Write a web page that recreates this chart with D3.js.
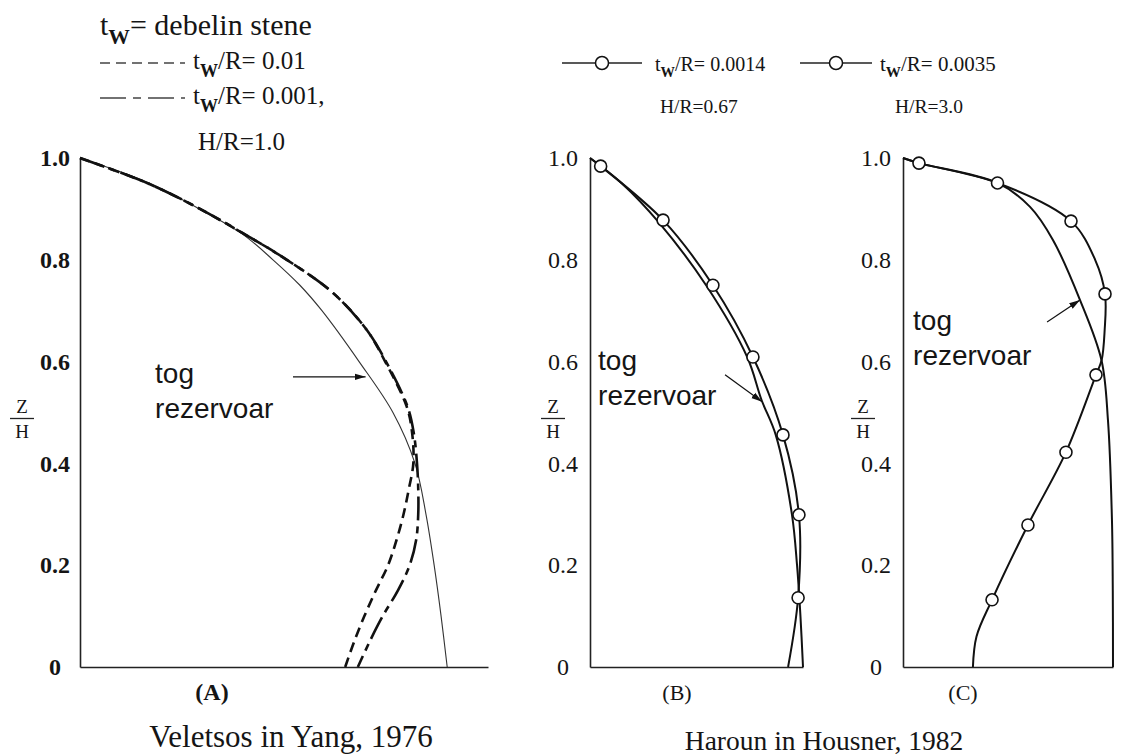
<!DOCTYPE html>
<html>
<head>
<meta charset="utf-8">
<script src="https://cdn.jsdelivr.net/npm/d3@7"></script>
<style>
  body { margin: 0; background: #fff; }
  svg { display: block; }
</style>
</head>
<body>
<svg id="chart" width="1136" height="756"></svg>
<script>
// Z/H ticks shared by all three panels
const zTicks = [0, 0.2, 0.4, 0.6, 0.8, 1.0];

// (A) Veletsos & Yang, H/R = 1.0 (pressure normalised to axis length)
const aZ = [1.0, 0.95, 0.9, 0.85, 0.8, 0.75, 0.7, 0.6, 0.5, 0.4, 0.3, 0.2, 0.1, 0];
const aRigid = [0, 0.172, 0.292, 0.399, 0.473, 0.539, 0.593, 0.684, 0.767, 0.821, 0.848, 0.868, 0.885, 0.9];
const aFlexZ = [1.0, 0.95, 0.9, 0.85, 0.8, 0.735, 0.662, 0.6, 0.511, 0.46, 0.4, 0.35, 0.3, 0.25, 0.2, 0.15, 0.1, 0.05, 0];
const aFlex01 = [0, 0.167, 0.294, 0.404, 0.507, 0.62, 0.703, 0.748, 0.801, 0.814, 0.817, 0.806, 0.793, 0.776, 0.755, 0.725, 0.697, 0.672, 0.65];
const aFlex001 = [0, 0.167, 0.294, 0.404, 0.507, 0.62, 0.703, 0.75, 0.803, 0.818, 0.826, 0.829, 0.829, 0.824, 0.808, 0.779, 0.742, 0.71, 0.681];

// (B) Haroun & Housner, H/R = 0.67
const bRigidZ = [1.0, 0.95, 0.874, 0.75, 0.609, 0.525, 0.456, 0.3, 0.2, 0.1, 0];
const bRigid = [0, 0.15, 0.322, 0.545, 0.738, 0.805, 0.872, 0.948, 0.972, 0.988, 1.0];
const bFlexZ = [1.0, 0.984, 0.878, 0.75, 0.609, 0.456, 0.299, 0.136, 0];
const bFlex = [0, 0.05, 0.343, 0.577, 0.765, 0.906, 0.981, 0.977, 0.93];
const bMark = [0, 1, 1, 1, 1, 1, 1, 1, 0];

// (C) Haroun & Housner, H/R = 3.0
const cRigidZ = [1.0, 0.99, 0.951, 0.904, 0.839, 0.721, 0.603, 0.485, 0.289, 0.15, 0];
const cRigid = [0, 0.076, 0.45, 0.605, 0.714, 0.843, 0.945, 0.976, 0.995, 0.999, 1.0];
const cFlexZ = [1.0, 0.99, 0.951, 0.876, 0.8, 0.733, 0.66, 0.603, 0.574, 0.422, 0.279, 0.132, 0.06, 0];
const cFlex = [0, 0.076, 0.45, 0.8, 0.915, 0.962, 0.96, 0.946, 0.919, 0.776, 0.595, 0.424, 0.35, 0.333];
const cMark = [0, 1, 1, 1, 0, 1, 0, 0, 1, 1, 1, 1, 0, 0];

const SERIF = '"Liberation Serif", "Times New Roman", Times, serif';
const SANS = '"Liberation Sans", Arial, Helvetica, sans-serif';
const INK = "#151515";

const svg = d3.select("#chart");
const yBottom = 667, yTop = 158;
const y = d3.scaleLinear().domain([0, 1]).range([yBottom, yTop]);
const fmt = (d) => (d === 0 ? "0" : d3.format(".1f")(d));
const zip = (vs, zs) => vs.map((v, i) => [v, zs[i]]);

const font = (sel, family, size, weight) =>
  sel.style("font-family", family).style("font-size", size + "px")
    .style("font-weight", weight || "normal").style("fill", INK);

// text with a "t_w" subscript at the start
const twText = (g, x, yb, size, rest) => {
  const t = font(g.append("text").attr("x", x).attr("y", yb), SERIF, size);
  t.append("tspan").text("t");
  t.append("tspan").attr("dy", size * 0.3).style("font-size", size * 0.72 + "px")
    .style("font-weight", "bold").text("W");
  t.append("tspan").attr("dy", -size * 0.3).text(rest);
  return t;
};

const panels = [
  { id: "A", range: [80, 488], label: "(A)", bold: true, zh: 22, lx: 212,
    tog: [0.184, 0.558], arrow: [[0.522, 0.57], [0.70, 0.57]] },
  { id: "B", range: [590, 803], label: "(B)", bold: false, zh: 553, lx: 677,
    tog: [0.038, 0.583], arrow: [[0.634, 0.574], [0.808, 0.521]] },
  { id: "C", range: [903, 1113], label: "(C)", bold: false, zh: 863, lx: 963,
    tog: [0.048, 0.662], arrow: [[0.686, 0.678], [0.843, 0.721]] },
];

svg.append("defs").append("marker")
  .attr("id", "arr").attr("viewBox", "0 0 10 10").attr("refX", 10).attr("refY", 5)
  .attr("markerWidth", 11).attr("markerHeight", 11).attr("markerUnits", "userSpaceOnUse")
  .attr("orient", "auto")
  .append("path").attr("d", "M0,2L10,5L0,8Z").attr("fill", "#111");

panels.forEach((p) => {
  const x = d3.scaleLinear().domain([0, 1]).range(p.range);
  const g = svg.append("g");
  p.x = x;
  p.g = g;

  const yAxis = g.append("g").attr("transform", `translate(${p.range[0]},0)`)
    .call(d3.axisLeft(y).tickValues(zTicks).tickSize(0).tickFormat(fmt));
  yAxis.select(".domain").attr("stroke", "#222").attr("stroke-width", 1.6);
  font(yAxis.selectAll(".tick text"), SERIF, 24, p.bold ? "bold" : "normal")
    .attr("x", p.id === "A" ? -25 : -27)
    .attr("text-anchor", "middle");

  const xAxis = g.append("g").attr("transform", `translate(0,${yBottom})`)
    .call(d3.axisBottom(x).tickValues([]).tickSizeOuter(0));
  xAxis.select(".domain").attr("stroke", "#222").attr("stroke-width", 1.6);

  // Z/H fraction label
  font(g.append("text"), SERIF, 19).attr("x", p.zh).attr("y", 413)
    .attr("text-anchor", "middle").text("Z");
  g.append("line").attr("x1", p.zh - 12).attr("x2", p.zh + 12).attr("y1", 418.5).attr("y2", 418.5)
    .attr("stroke", "#222").attr("stroke-width", 1.3);
  font(g.append("text"), SERIF, 19).attr("x", p.zh).attr("y", 438)
    .attr("text-anchor", "middle").text("H");

  font(g.append("text"), SERIF, p.bold ? 24 : 22, p.bold ? "bold" : "normal")
    .attr("x", p.lx).attr("y", 700).attr("text-anchor", "middle").text(p.label);

  // "tog rezervoar" annotation
  font(g.append("text"), SANS, 28).attr("x", x(p.tog[0])).attr("y", y(p.tog[1])).text("tog");
  font(g.append("text"), SANS, 28).attr("x", x(p.tog[0])).attr("y", y(p.tog[1]) + 35).text("rezervoar");
  g.append("line")
    .attr("x1", x(p.arrow[0][0])).attr("y1", y(p.arrow[0][1]))
    .attr("x2", x(p.arrow[1][0])).attr("y2", y(p.arrow[1][1]))
    .attr("stroke", "#111").attr("stroke-width", 1.2).attr("marker-end", "url(#arr)");
});

const line = (p) => d3.line().x((d) => p.x(d[0])).y((d) => y(d[1]))
  .curve(d3.curveCatmullRom.alpha(0.5));

const drawCurve = (p, pts, stroke, width, dash) =>
  p.g.append("path").attr("d", line(p)(pts)).attr("fill", "none")
    .attr("stroke", stroke).attr("stroke-width", width)
    .attr("stroke-dasharray", dash || null).attr("stroke-linecap", "butt");

const drawMarks = (p, pts, mask) =>
  p.g.selectAll("circle.m").data(pts.filter((d, i) => mask[i])).join("circle")
    .attr("class", "m").attr("cx", (d) => p.x(d[0])).attr("cy", (d) => y(d[1])).attr("r", 6)
    .attr("fill", "#fff").attr("stroke", "#111").attr("stroke-width", 1.6);

const [pA, pB, pC] = panels;

// (A)
drawCurve(pA, zip(aRigid, aZ), "#333", 1.1);
drawCurve(pA, zip(aFlex01, aFlexZ), "#111", 2.6, "10,6");
drawCurve(pA, zip(aFlex001, aFlexZ), "#111", 2.6, "24,6,7,6");

// (B)
drawCurve(pB, zip(bRigid, bRigidZ), "#111", 2);
drawCurve(pB, zip(bFlex, bFlexZ), "#111", 2);
drawMarks(pB, zip(bFlex, bFlexZ), bMark);

// (C)
drawCurve(pC, zip(cRigid, cRigidZ), "#111", 2);
drawCurve(pC, zip(cFlex, cFlexZ), "#111", 2);
drawMarks(pC, zip(cFlex, cFlexZ), cMark);

// legend (A)
const leg = svg.append("g");
twText(leg, 100, 35, 30, "= debelin stene");
leg.append("line").attr("x1", 100).attr("x2", 185).attr("y1", 63).attr("y2", 63)
  .attr("stroke", "#444").attr("stroke-width", 1.3).attr("stroke-dasharray", "10,6");
twText(leg, 193, 69, 25, "/R= 0.01");
leg.append("line").attr("x1", 100).attr("x2", 185).attr("y1", 98).attr("y2", 98)
  .attr("stroke", "#444").attr("stroke-width", 1.3).attr("stroke-dasharray", "26,7,8,7");
twText(leg, 193, 104, 25, "/R= 0.001,");
font(leg.append("text"), SERIF, 25).attr("x", 198).attr("y", 150).text("H/R=1.0");

// legend (B), (C)
const legendMarks = [
  { x1: 562, x2: 642, tx: 655, size: 20, txt: "/R= 0.0014", hr: "H/R=0.67", hx: 660 },
  { x1: 800, x2: 872, tx: 880, size: 21, txt: "/R= 0.0035", hr: "H/R=3.0", hx: 895 },
];
legendMarks.forEach((m) => {
  leg.append("line").attr("x1", m.x1).attr("x2", m.x2).attr("y1", 63).attr("y2", 63)
    .attr("stroke", "#222").attr("stroke-width", 1.3);
  leg.append("circle").attr("cx", (m.x1 + m.x2) / 2).attr("cy", 63).attr("r", 6.5)
    .attr("fill", "#fff").attr("stroke", "#111").attr("stroke-width", 1.5);
  twText(leg, m.tx, 71, m.size, m.txt);
  font(leg.append("text"), SERIF, 19.5).attr("x", m.hx).attr("y", 113).text(m.hr);
});

// captions
font(svg.append("text"), SERIF, 31).attr("x", 291).attr("y", 747)
  .attr("text-anchor", "middle").text("Veletsos in Yang, 1976");
font(svg.append("text"), SERIF, 27.5).attr("x", 824).attr("y", 750)
  .attr("text-anchor", "middle").text("Haroun in Housner, 1982");
</script>
</body>
</html>
